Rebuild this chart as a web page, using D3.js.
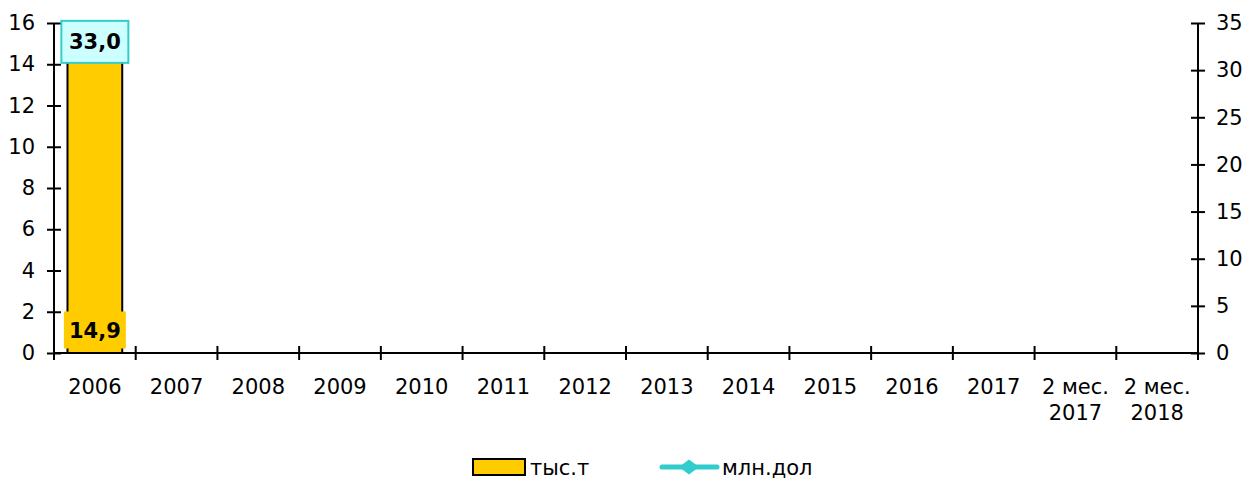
<!DOCTYPE html>
<html>
<head>
<meta charset="utf-8">
<script src="https://cdn.jsdelivr.net/npm/d3@7/dist/d3.min.js"></script>
<style>
  body { margin: 0; background: #fff; }
  text { font-family: "DejaVu Sans", Verdana, sans-serif; }
</style>
</head>
<body>
<div id="chart"></div>
<script>
// Datos
const categories = ["2006", "2007", "2008", "2009", "2010", "2011", "2012", "2013",
  "2014", "2015", "2016", "2017", "2 мес.|2017", "2 мес.|2018"];
const tonnes = [14.9, null, null, null, null, null, null, null, null, null, null, null, null, null];
const usd = [33.0, null, null, null, null, null, null, null, null, null, null, null, null, null];
const leftTicks = [0, 2, 4, 6, 8, 10, 12, 14, 16];
const rightTicks = [0, 5, 10, 15, 20, 25, 30, 35];
const seriesNames = ["тыс.т", "млн.дол"];

const W = 1246, H = 479;
const margin = { top: 23, right: 48, bottom: 126, left: 54 };
const width = W - margin.left - margin.right;
const height = H - margin.top - margin.bottom;
const fs = 21;

const svg = d3.select("#chart").append("svg")
  .attr("width", W).attr("height", H);
const g = svg.append("g").attr("transform", `translate(${margin.left},${margin.top})`);

const x = d3.scaleBand().domain(categories).range([0, width]).paddingInner(0.33).paddingOuter(0.165);
const xb = d3.scaleBand().domain(categories).range([0, width]);
const yL = d3.scaleLinear().domain([0, 16]).range([height, 0]);
const yR = d3.scaleLinear().domain([0, 35]).range([height, 0]);

// Barras
const bars = categories.map((c, i) => ({ c, v: tonnes[i] })).filter(d => d.v != null);
g.selectAll(".bar").data(bars).enter().append("rect")
  .attr("x", d => x(d.c))
  .attr("y", d => yL(d.v))
  .attr("width", x.bandwidth())
  .attr("height", d => height - yL(d.v))
  .attr("fill", "#FFCC00")
  .attr("stroke", "#000")
  .attr("stroke-width", 2);

// Ejes
const axisStyle = sel => {
  sel.selectAll(".domain").attr("stroke", "#000").attr("stroke-width", 2);
  sel.selectAll(".tick line").attr("stroke", "#000").attr("stroke-width", 2);
  sel.selectAll("text").attr("font-size", fs).attr("fill", "#000");
};

const gl = g.append("g")
  .call(d3.axisLeft(yL).tickValues(leftTicks).tickSize(7).tickSizeOuter(0).tickPadding(12));
gl.selectAll(".tick line").attr("x2", 7).attr("x1", -7);
gl.select(".domain").attr("d", `M0,${height}V0`);
axisStyle(gl);

const gr = g.append("g").attr("transform", `translate(${width},0)`)
  .call(d3.axisRight(yR).tickValues(rightTicks).tickSize(7).tickSizeOuter(0).tickPadding(11));
gr.selectAll(".tick line").attr("x1", -7).attr("x2", 7);
gr.select(".domain").attr("d", `M0,${height}V0`);
axisStyle(gr);

const gx = g.append("g").attr("transform", `translate(0,${height})`);
gx.append("line").attr("x1", 0).attr("x2", width).attr("stroke", "#000").attr("stroke-width", 2);
const bounds = d3.range(categories.length + 1).map(i => i * xb.step());
gx.selectAll(".xt").data(bounds).enter().append("line")
  .attr("x1", d => d).attr("x2", d => d).attr("y1", -7).attr("y2", 7)
  .attr("stroke", "#000").attr("stroke-width", 2);
const xl = gx.selectAll(".xl").data(categories).enter().append("text")
  .attr("text-anchor", "middle")
  .attr("font-size", fs)
  .attr("transform", d => `translate(${xb(d) + xb.bandwidth() / 2},0)`);
xl.each(function (d) {
  const parts = d.split("|");
  parts.forEach((p, k) => {
    d3.select(this).append("tspan").attr("x", 0).attr("y", 41 + k * 26).text(p);
  });
});

// Línea (млн.дол)
const diamond = (w, h) => `M0,${-h / 2}L${w / 2},0L0,${h / 2}L${-w / 2},0Z`;
const pts = categories.map((c, i) => ({ c, v: usd[i] })).filter(d => d.v != null);
const cx = d => xb(d.c) + xb.bandwidth() / 2;
g.append("path").datum(pts)
  .attr("fill", "none").attr("stroke", "#33CCCC").attr("stroke-width", 5)
  .attr("d", d3.line().x(cx).y(d => yR(d.v)));
g.selectAll(".pt").data(pts).enter().append("path")
  .attr("transform", d => `translate(${cx(d)},${yR(d.v)})`)
  .attr("d", diamond(20, 16))
  .attr("fill", "#33CCCC");

// Etiquetas
const fmt = v => v.toFixed(1).replace(".", ",");
bars.forEach(d => {
  const cxx = xb(d.c) + xb.bandwidth() / 2;
  const cy = height - 23;
  g.append("rect").attr("x", cxx - 31).attr("y", cy - 18.5).attr("width", 62).attr("height", 37)
    .attr("fill", "#FFCC00");
  g.append("text").attr("x", cxx).attr("y", cy).attr("dy", "0.36em")
    .attr("text-anchor", "middle").attr("font-size", 21).attr("font-weight", "bold")
    .text(fmt(d.v));
});
pts.forEach(d => {
  const cy = yR(d.v);
  g.append("rect").attr("x", cx(d) - 33.5).attr("y", cy - 21).attr("width", 67).attr("height", 42)
    .attr("fill", "#CCFFFF").attr("stroke", "#33CCCC").attr("stroke-width", 2);
  g.append("text").attr("x", cx(d)).attr("y", cy).attr("dy", "0.36em")
    .attr("text-anchor", "middle").attr("font-size", 21).attr("font-weight", "bold")
    .text(fmt(d.v));
});

// Leyenda
const lg = svg.append("g").attr("transform", "translate(0,467)");
lg.append("rect").attr("x", 473).attr("y", -8).attr("width", 52).attr("height", 16)
  .attr("fill", "#FFCC00").attr("stroke", "#000").attr("stroke-width", 2);
lg.append("text").attr("x", 530).attr("y", 0).attr("dy", "0.36em").attr("font-size", fs).text(seriesNames[0]);
lg.append("line").attr("x1", 662).attr("x2", 717).attr("y1", 0).attr("y2", 0)
  .attr("stroke", "#33CCCC").attr("stroke-width", 5).attr("stroke-linecap", "round");
lg.append("path").attr("transform", "translate(689,0)").attr("d", diamond(20, 15)).attr("fill", "#33CCCC");
lg.append("text").attr("x", 722).attr("y", 0).attr("dy", "0.36em").attr("font-size", fs).text(seriesNames[1]);
</script>
</body>
</html>
